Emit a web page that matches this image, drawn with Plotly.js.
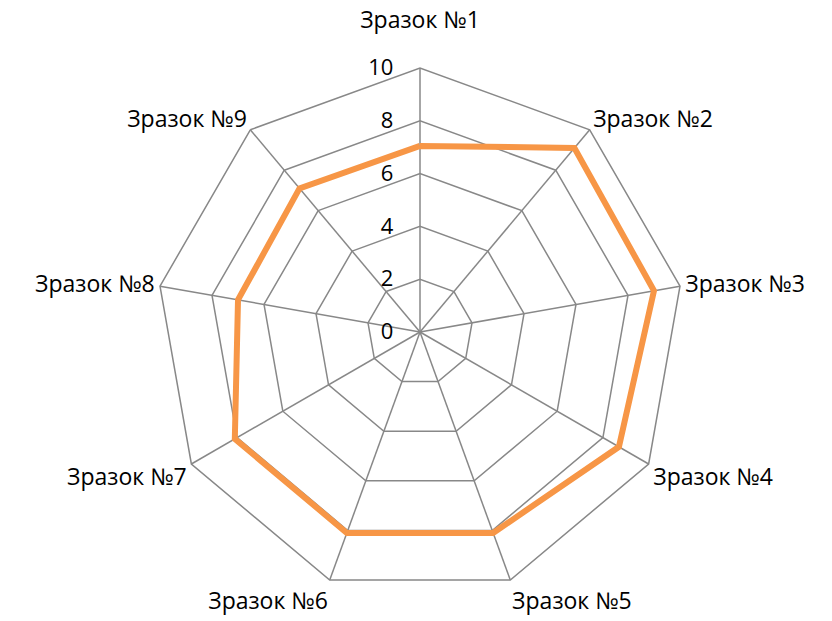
<!DOCTYPE html>
<html><head><meta charset="utf-8">
<script src="https://cdn.plot.ly/plotly-3.0.1.min.js"></script>
<style>body{margin:0;background:#fff}#c{width:832px;height:621px}</style>
</head><body><div id="c"></div>
<script>
const categories = ["Зразок №1","Зразок №2","Зразок №3","Зразок №4","Зразок №5","Зразок №6","Зразок №7","Зразок №8","Зразок №9"];
const values = [7.05, 9.1, 9.0, 8.7, 8.1, 8.1, 8.1, 7.0, 7.1];
const radialTicks = [0, 2, 4, 6, 8, 10];
const radialTickText = radialTicks.map(v => String(v) + "\u00a0\u00a0\u00a0\u00a0");
const angularTickText = categories.map((c, i) => i === 0 ? c + "<br>\u00a0" : c);

const trace = {
  type: "scatterpolar",
  mode: "lines",
  r: values.concat([values[0]]),
  theta: categories.concat([categories[0]]),
  line: {color: "#F79646", width: 6},
  hoverinfo: "skip"
};
const layout = {
  width: 832, height: 621,
  margin: {l: 156, r: 148, t: 68, b: 25},
  paper_bgcolor: "#fff",
  showlegend: false,
  font: {family: "Open Sans, Noto Sans, sans-serif", color: "#000", size: 23},
  polar: {
    domain: {x: [0, 1], y: [0, 1]},
    gridshape: "linear",
    bgcolor: "#fff",
    angularaxis: {
      direction: "clockwise", rotation: 90,
      categoryorder: "array", categoryarray: categories,
      tickvals: categories, ticktext: angularTickText,
      showline: true, linecolor: "#888", linewidth: 1.5,
      gridcolor: "#888", gridwidth: 1.5,
      ticks: "", tickfont: {size: 23, color: "#000"}
    },
    radialaxis: {
      range: [0, 10], angle: 90, side: "counterclockwise",
      tickvals: radialTicks, ticktext: radialTickText,
      showline: false, gridcolor: "#888", gridwidth: 1.5,
      ticks: "", tickfont: {size: 22, color: "#000"}, tickangle: 90
    }
  }
};
Plotly.newPlot("c", [trace], layout, {staticPlot: true});
</script></body></html>
